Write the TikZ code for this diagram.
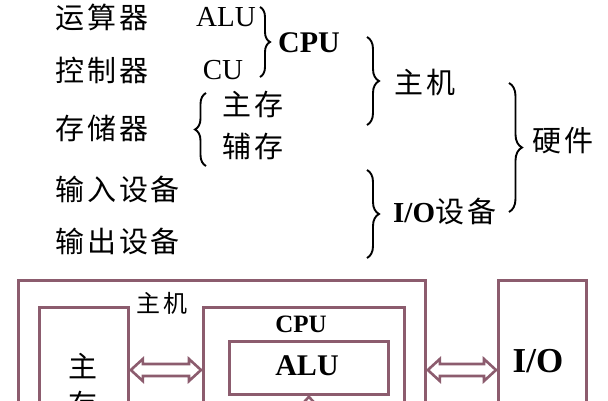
\documentclass[tikz,border=0pt]{standalone}
\usepackage{fontspec}
\setmainfont{Liberation Serif}
\newfontfamily\cjk[LetterSpace=10]{Noto Sans CJK SC}
\usetikzlibrary{decorations.pathreplacing,calc}
\definecolor{mauve}{RGB}{140,92,110}
\begin{document}
\begin{tikzpicture}[x=1pt,y=-1pt,
  zh/.style={font=\cjk\fontsize{29}{29}\selectfont, inner sep=0pt},
  zhs/.style={font=\cjk\fontsize{24}{24}\selectfont, inner sep=0pt},
  lat/.style={font=\fontsize{29}{29}\selectfont, inner sep=0pt},
  latb/.style={font=\bfseries\fontsize{30}{30}\selectfont, inner sep=0pt},
  brc/.style={decorate, decoration={brace, amplitude=#1}, line width=1.9pt},
  box/.style={draw=mauve, line width=2.8pt, inner sep=0pt, anchor=north west},
  arr/.style={draw=mauve, fill=white, line width=2.6pt, line join=miter}]
\useasboundingbox (0,0) rectangle (608,400);
\clip (0,0) rectangle (608,400);
% ---- top: classification ----
\node[zh, anchor=west] (ysq) at (55,17) {运算器};
\node[zh, anchor=west] (kzq) at (55,70) {控制器};
\node[zh, anchor=west] (ccq) at (55,128) {存储器};
\node[zh, anchor=west] (srsb) at (55,189) {输入设备};
\node[zh, anchor=west] (scsb) at (55,241) {输出设备};
\node[lat] (alu) at (226,17) {ALU};
\node[lat] (cu) at (223,70) {CU};
\coordinate (b1t) at (260,7);
\coordinate (b1b) at (260,77);
\draw[brc=10pt] (b1t) -- (b1b);
\node[latb, anchor=west] (cpu) at (278,43) {CPU};
\coordinate (b2t) at (206,93);
\coordinate (b2b) at (206,166);
\draw[brc=11pt] (b2b) -- (b2t);
\node[zh, anchor=west] (zc) at (222,104) {主存};
\node[zh, anchor=west] (fc) at (222,146) {辅存};
\coordinate (b3t) at (367,37);
\coordinate (b3b) at (367,125);
\draw[brc=12pt] (b3t) -- (b3b);
\node[zh, anchor=west] (zj) at (394,82) {主机};
\coordinate (b4t) at (367,170);
\coordinate (b4b) at (367,258);
\draw[brc=12pt] (b4t) -- (b4b);
\node[anchor=west, inner sep=0pt] (iosb) at (393,211)
  {\fontsize{29}{29}\selectfont\bfseries I/O\cjk\mdseries 设备};
\coordinate (b5t) at (509,83);
\coordinate (b5b) at (509,212);
\draw[brc=13pt] (b5t) -- (b5b);
\node[zh, anchor=west] (yj) at (532,141) {硬件};
% ---- bottom: block diagram ----
\node[box, minimum width=407pt, minimum height=160pt] (host) at (17,279) {};
\node[box, minimum width=89pt, minimum height=140pt] (mem) at (38,306) {};
\node[box, minimum width=201pt, minimum height=140pt] (cpub) at (202,306) {};
\node[box, minimum width=159pt, minimum height=53pt] (alub) at (228,340) {};
\node[box, minimum width=88pt, minimum height=160pt] (io) at (497,279) {};
\node[zhs] (hostl) at (162,303) {主机};
\node[font=\bfseries\fontsize{25}{25}\selectfont, inner sep=0pt] (cpul) at (301,324) {CPU};
\node[latb] (alul) at (307,366) {ALU};
\node[font=\bfseries\fontsize{35}{35}\selectfont, inner sep=0pt] (iol) at (538,361) {I/O};
\node[zh] (memz) at (83,366) {主};
\node[zh] (memc) at (83,404) {存};
% hollow double arrows
\coordinate (a1l) at ($(mem.east |- 0,370)+(1,0)$);
\coordinate (a1r) at ($(cpub.west |- 0,370)+(-1,0)$);
\draw[arr] (a1l) -- ++(12,-11) -- ++(0,5) -- ($(a1r)+(-12,-6)$) -- ++(0,-5)
  -- (a1r) -- ++(-12,11) -- ++(0,-5) -- ($(a1l)+(12,6)$) -- ++(0,5) -- cycle;
\coordinate (a2l) at ($(host.east |- 0,370)+(1,0)$);
\coordinate (a2r) at ($(io.west |- 0,370)+(-1,0)$);
\draw[arr] (a2l) -- ++(12,-11) -- ++(0,5) -- ($(a2r)+(-12,-6)$) -- ++(0,-5)
  -- (a2r) -- ++(-12,11) -- ++(0,-5) -- ($(a2l)+(12,6)$) -- ++(0,5) -- cycle;
\coordinate (a3t) at ($(alub.south)+(0,1)$);
\draw[arr] (a3t) -- ++(-11,12) -- ++(5,0) -- ++(0,30) -- ++(12,0) -- ++(0,-30)
  -- ++(5,0) -- cycle;
\end{tikzpicture}
\end{document}
